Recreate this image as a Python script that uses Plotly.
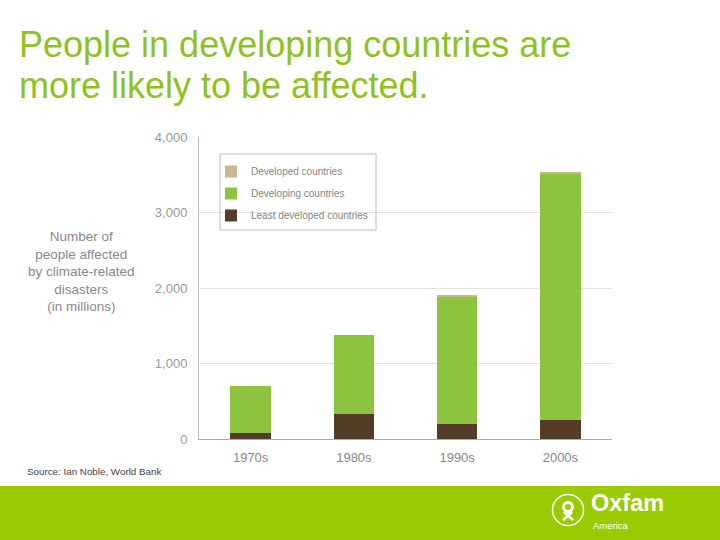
import plotly.graph_objects as go

decades = ["1970s", "1980s", "1990s", "2000s"]
least_developed = [85, 330, 200, 250]
developing = [615, 1050, 1675, 3265]
developed = [0, 0, 28, 22]

title_lines = ["People in developing countries are", "more likely to be affected."]

W, H = 720, 540
def px(x):
    return x / W
def py(y):
    return 1 - y / H

FONT = "Liberation Sans, Arial, sans-serif"

fig = go.Figure()
fig.add_bar(x=decades, y=least_developed, name="Least developed countries",
            legendgroup="a", legendrank=3,
            marker=dict(color="#553c26", line=dict(width=0)))
fig.add_bar(x=decades, y=developing, name="Developing countries",
            legendgroup="b", legendrank=2,
            marker=dict(color="#8cc43f", line=dict(width=0)))
fig.add_bar(x=decades, y=developed, name="Developed countries",
            legendgroup="c", legendrank=1,
            marker=dict(color="#c9b894", line=dict(width=0)))

fig.update_layout(
    width=W, height=H, autosize=False,
    margin=dict(l=0, r=0, t=0, b=0, pad=0, autoexpand=False),
    paper_bgcolor="white", plot_bgcolor="white",
    barmode="stack", bargap=0.61,
    font=dict(family=FONT),
    showlegend=True,
    legend=dict(
        x=px(211), y=py(157), xanchor="left", yanchor="top",
        traceorder="grouped",
        borderwidth=0, bgcolor="rgba(0,0,0,0)",
        font=dict(size=10, color="#858585"),
        itemwidth=30, tracegroupgap=3,
    ),
    xaxis=dict(
        domain=[px(199), px(612)],
        automargin=False,
        showline=True, linecolor="#aaaaaa", linewidth=1,
        ticks="", tickfont=dict(size=13, color="#888888"),
        ticklabelstandoff=6,
        showgrid=False,
    ),
    yaxis=dict(
        domain=[py(439), py(137)],
        automargin=False,
        range=[0, 4000],
        tickvals=[0, 1000, 2000, 3000, 4000],
        tickformat=",",
        showline=True, linecolor="#bbbbbb", linewidth=1,
        showgrid=True, gridcolor="#e2e2e2", gridwidth=1,
        zeroline=False,
        ticks="", ticklabelstandoff=8,
        tickfont=dict(size=13, color="#999999"),
    ),
)

# Legend frame
fig.add_shape(type="rect", xref="paper", yref="paper",
              x0=px(220), x1=px(376), y0=py(230), y1=py(154),
              line=dict(color="#bbbbbb", width=1), fillcolor="rgba(0,0,0,0)", layer="above")

# Title (two lines)
for line, yc in zip(title_lines, [44, 86]):
    fig.add_annotation(
        text=line,
        xref="paper", yref="paper", x=px(17), y=py(yc),
        xanchor="left", yanchor="middle", align="left", showarrow=False,
        font=dict(size=36, color="#8dc21f", family=FONT),
    )

# Y-axis title
fig.add_annotation(
    text="Number of<br>people affected<br>by climate-related<br>disasters<br>(in millions)",
    xref="paper", yref="paper", x=px(81), y=py(227),
    xanchor="center", yanchor="top", align="center", showarrow=False,
    font=dict(size=13.5, color="#8a8a8a"),
)

# Source
fig.add_annotation(
    text="Source: Ian Noble, World Bank",
    xref="paper", yref="paper", x=px(25), y=py(471),
    xanchor="left", yanchor="middle", showarrow=False,
    font=dict(size=9.8, color="#444444"),
)

# Footer band
fig.add_shape(type="rect", xref="paper", yref="paper",
              x0=0, x1=1, y0=0, y1=py(486),
              fillcolor="#99cc00", line=dict(width=0), layer="above")

# Oxfam logo circle
cx, cy, r = 568, 510, 15.5
fig.add_shape(type="circle", xref="paper", yref="paper",
              x0=px(cx - r), x1=px(cx + r), y0=py(cy + r), y1=py(cy - r),
              line=dict(color="white", width=1.5), fillcolor="rgba(0,0,0,0)", layer="above")
hr = 4.5
fig.add_shape(type="circle", xref="paper", yref="paper",
              x0=px(cx - hr), x1=px(cx + hr), y0=py(cy - 3 + hr), y1=py(cy - 3 - hr),
              line=dict(color="white", width=3), fillcolor="rgba(0,0,0,0)", layer="above")
fig.add_shape(type="line", xref="paper", yref="paper",
              x0=px(cx - 4), y0=py(cy + 2), x1=px(cx + 5), y1=py(cy + 10),
              line=dict(color="white", width=3), layer="above")
fig.add_shape(type="line", xref="paper", yref="paper",
              x0=px(cx + 4), y0=py(cy + 2), x1=px(cx - 5), y1=py(cy + 10),
              line=dict(color="white", width=3), layer="above")

fig.add_annotation(
    text="<b>Oxfam</b>", xref="paper", yref="paper",
    x=px(589), y=py(503), xanchor="left", yanchor="middle", showarrow=False,
    font=dict(size=23.5, color="white", family=FONT),
)
fig.add_annotation(
    text="America", xref="paper", yref="paper",
    x=px(591), y=py(525), xanchor="left", yanchor="middle", showarrow=False,
    font=dict(size=9.5, color="white"),
)

fig.write_html("out.html",
               config={"displayModeBar": False},
               post_script="document.body.style.margin='0px';document.body.style.overflow='hidden';")
